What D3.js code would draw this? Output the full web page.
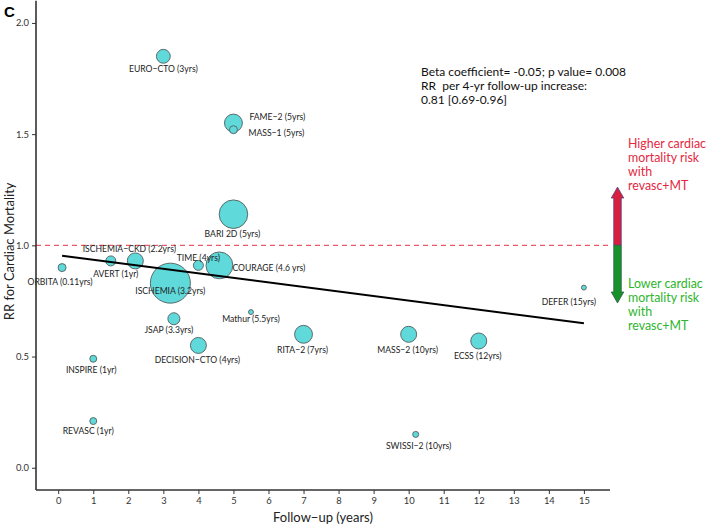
<!DOCTYPE html>
<html>
<head>
<meta charset="utf-8">
<script src="https://cdn.jsdelivr.net/npm/d3@7"></script>
<style>
  html, body { margin: 0; padding: 0; background: #fff; }
  svg { display: block; }
</style>
</head>
<body>
<div id="chart"></div>
<script>
// ---------------- DATA ----------------
const studies = ["EURO−CTO (3yrs)", "FAME−2 (5yrs)", "MASS−1 (5yrs)", "BARI 2D (5yrs)",
  "ISCHEMIA−CKD (2.2yrs)", "AVERT (1yr)", "ORBITA (0.11yrs)", "ISCHEMIA (3.2yrs)",
  "TIME (4yrs)", "COURAGE (4.6 yrs)", "Mathur (5.5yrs)", "JSAP (3.3yrs)",
  "DECISION−CTO (4yrs)", "INSPIRE (1yr)", "REVASC (1yr)", "RITA−2 (7yrs)",
  "MASS−2 (10yrs)", "ECSS (12yrs)", "SWISSI−2 (10yrs)", "DEFER (15yrs)"];
const followUp = [3, 5, 5, 5, 2.2, 1.5, 0.11, 3.2, 4, 4.6, 5.5, 3.3, 4, 1, 1, 7, 10, 12, 10.2, 15];
const rrCardiac = [1.85, 1.55, 1.52, 1.14, 0.93, 0.93, 0.90, 0.83, 0.91, 0.91, 0.70, 0.67,
  0.55, 0.49, 0.21, 0.60, 0.60, 0.57, 0.15, 0.81];
const studyWeight = [12, 20, 4, 51, 16, 6.25, 4, 100, 6.25, 45, 1.5, 9, 16, 3, 3, 20, 16, 16, 2.25, 1.5];

const xTicks = [0, 1, 2, 3, 4, 5, 6, 7, 8, 9, 10, 11, 12, 13, 14, 15];
const yTicks = [0.0, 0.5, 1.0, 1.5, 2.0];

const regressionX = [0.11, 15];
const regressionY = [0.953, 0.65];
const referenceRR = 1.0;

const annotationLines = ["Beta coefficient= -0.05; p value= 0.008",
  "RR  per 4-yr follow-up increase:", "0.81 [0.69-0.96]"];
const higherLines = ["Higher cardiac", "mortality risk", "with", "revasc+MT"];
const lowerLines = ["Lower cardiac", "mortality risk", "with", "revasc+MT"];
const arrowRange = [1.262, 0.741];

// label placement (layout only): [dx, dy, anchor]
const labelPlacement = {
  "EURO−CTO (3yrs)": [0, 16, "middle"],
  "FAME−2 (5yrs)": [16, -3, "start"],
  "MASS−1 (5yrs)": [15, 6, "start"],
  "BARI 2D (5yrs)": [-1, 23, "middle"],
  "ISCHEMIA−CKD (2.2yrs)": [-6, -9, "middle"],
  "AVERT (1yr)": [5, 16, "middle"],
  "ORBITA (0.11yrs)": [-2, 17, "middle"],
  "ISCHEMIA (3.2yrs)": [0, 11, "middle"],
  "TIME (4yrs)": [0, -4, "middle"],
  "COURAGE (4.6 yrs)": [13, 6, "start"],
  "Mathur (5.5yrs)": [0, 10, "middle"],
  "JSAP (3.3yrs)": [-5, 14, "middle"],
  "DECISION−CTO (4yrs)": [-1, 18, "middle"],
  "INSPIRE (1yr)": [-2, 14, "middle"],
  "REVASC (1yr)": [-5, 13, "middle"],
  "RITA−2 (7yrs)": [-1, 19, "middle"],
  "MASS−2 (10yrs)": [-1, 19, "middle"],
  "ECSS (12yrs)": [-1, 18, "middle"],
  "SWISSI−2 (10yrs)": [3, 15, "middle"],
  "DEFER (15yrs)": [-15, 17, "middle"]
};

// ---------------- LAYOUT ----------------
const W = 708, H = 526;
const panel = { left: 36, right: 610, top: 0.7, bottom: 490 };
const FONT = "Lato, 'Open Sans', sans-serif";

const svg = d3.select("#chart").append("svg").attr("width", W).attr("height", H)
  .style("font-family", FONT);

const x = d3.scaleLinear().domain([-0.634, 15.745]).range([panel.left, panel.right]);
const y = d3.scaleLinear().domain([-0.1, 2.1]).range([panel.bottom, panel.top]);
const r = d3.scaleSqrt().domain([0, 100]).range([0, 20]);

// reference line
svg.append("line")
  .attr("x1", panel.left).attr("x2", panel.right)
  .attr("y1", y(referenceRR)).attr("y2", y(referenceRR))
  .attr("stroke", "#e85a68").attr("stroke-width", 1.2)
  .attr("stroke-dasharray", "5,4");

// bubbles (largest first)
const pts = studies.map((s, i) => ({ name: s, fu: followUp[i], rr: rrCardiac[i], w: studyWeight[i] }));
const order = pts.slice().sort((a, b) => b.w - a.w);
svg.append("g").selectAll("circle").data(order).join("circle")
  .attr("cx", d => x(d.fu)).attr("cy", d => y(d.rr)).attr("r", d => r(d.w))
  .attr("fill", "#5fd9da").attr("stroke", "#5b6b6b").attr("stroke-width", 1);

// regression line
svg.append("path")
  .datum(regressionX.map((v, i) => [v, regressionY[i]]))
  .attr("d", d3.line().x(d => x(d[0])).y(d => y(d[1])))
  .attr("stroke", "#000").attr("stroke-width", 2).attr("fill", "none");

// labels
svg.append("g").selectAll("text").data(pts).join("text")
  .attr("x", d => x(d.fu) + labelPlacement[d.name][0])
  .attr("y", d => y(d.rr) + labelPlacement[d.name][1])
  .attr("text-anchor", d => labelPlacement[d.name][2])
  .attr("font-size", 8.6).attr("fill", "#222")
  .text(d => d.name);

// axes
const xAxis = d3.axisBottom(x).tickValues(xTicks).tickSize(4).tickPadding(3).tickFormat(d3.format("d"));
const gx = svg.append("g").attr("transform", `translate(0,${panel.bottom})`).call(xAxis);
gx.select(".domain").attr("d", `M${panel.left},0H${panel.right}`).attr("stroke", "#333").attr("stroke-width", 1.6);
gx.selectAll(".tick line").attr("stroke", "#333");
gx.selectAll(".tick text").attr("font-size", 9.4).attr("fill", "#333").attr("font-family", FONT);

const yAxis = d3.axisLeft(y).tickValues(yTicks).tickSize(4).tickPadding(3).tickFormat(d3.format(".1f"));
const gy = svg.append("g").attr("transform", `translate(${panel.left},0)`).call(yAxis);
gy.select(".domain").attr("d", `M0,${panel.bottom}V${panel.top}`).attr("stroke", "#333").attr("stroke-width", 1.6);
gy.selectAll(".tick line").attr("stroke", "#333");
gy.selectAll(".tick text").attr("font-size", 9.4).attr("fill", "#333").attr("font-family", FONT);

// axis titles
svg.append("text").attr("x", (panel.left + panel.right) / 2).attr("y", 522)
  .attr("text-anchor", "middle").attr("font-size", 13).attr("fill", "#222")
  .text("Follow−up (years)");
svg.append("text")
  .attr("transform", `translate(14,${(panel.top + panel.bottom) / 2 + 6}) rotate(-90)`)
  .attr("text-anchor", "middle").attr("font-size", 13).attr("fill", "#222")
  .text("RR for Cardiac Mortality");

// panel letter
svg.append("text").attr("x", 4).attr("y", 17).attr("font-size", 15).attr("font-weight", "bold")
  .attr("font-family", "Arial, 'Liberation Sans', sans-serif").text("C");

// annotation
svg.append("g").selectAll("text").data(annotationLines).join("text")
  .attr("x", 421).attr("y", (d, i) => 76 + i * 14.2)
  .attr("xml:space", "preserve").style("white-space", "pre")
  .attr("font-size", 12).attr("fill", "#111").text(d => d);

// arrow
const ax = 617.5, shaftW = 7.5, headW = 12.5, headH = 11;
const yTop = y(arrowRange[0]), yMid = y(referenceRR), yBot = y(arrowRange[1]);
svg.append("path")
  .attr("d", `M${ax - shaftW / 2},${yMid} V${yTop + headH} H${ax - headW / 2} L${ax},${yTop} L${ax + headW / 2},${yTop + headH} H${ax + shaftW / 2} V${yMid} Z`)
  .attr("fill", "#d81f3e").attr("stroke", "#4b4a86").attr("stroke-width", 0.8);
svg.append("path")
  .attr("d", `M${ax - shaftW / 2},${yMid} V${yBot - headH} H${ax - headW / 2} L${ax},${yBot} L${ax + headW / 2},${yBot - headH} H${ax + shaftW / 2} V${yMid} Z`)
  .attr("fill", "#17912a").attr("stroke", "#2e5e4a").attr("stroke-width", 0.8);

svg.append("g").selectAll("text").data(higherLines).join("text")
  .attr("x", 628).attr("y", (d, i) => 147.5 + i * 14.3)
  .attr("font-size", 12.4).attr("fill", "#e4283f").text(d => d);
svg.append("g").selectAll("text").data(lowerLines).join("text")
  .attr("x", 628).attr("y", (d, i) => 287.5 + i * 14.3)
  .attr("font-size", 12.4).attr("fill", "#2db52d").text(d => d);
</script>
</body>
</html>
